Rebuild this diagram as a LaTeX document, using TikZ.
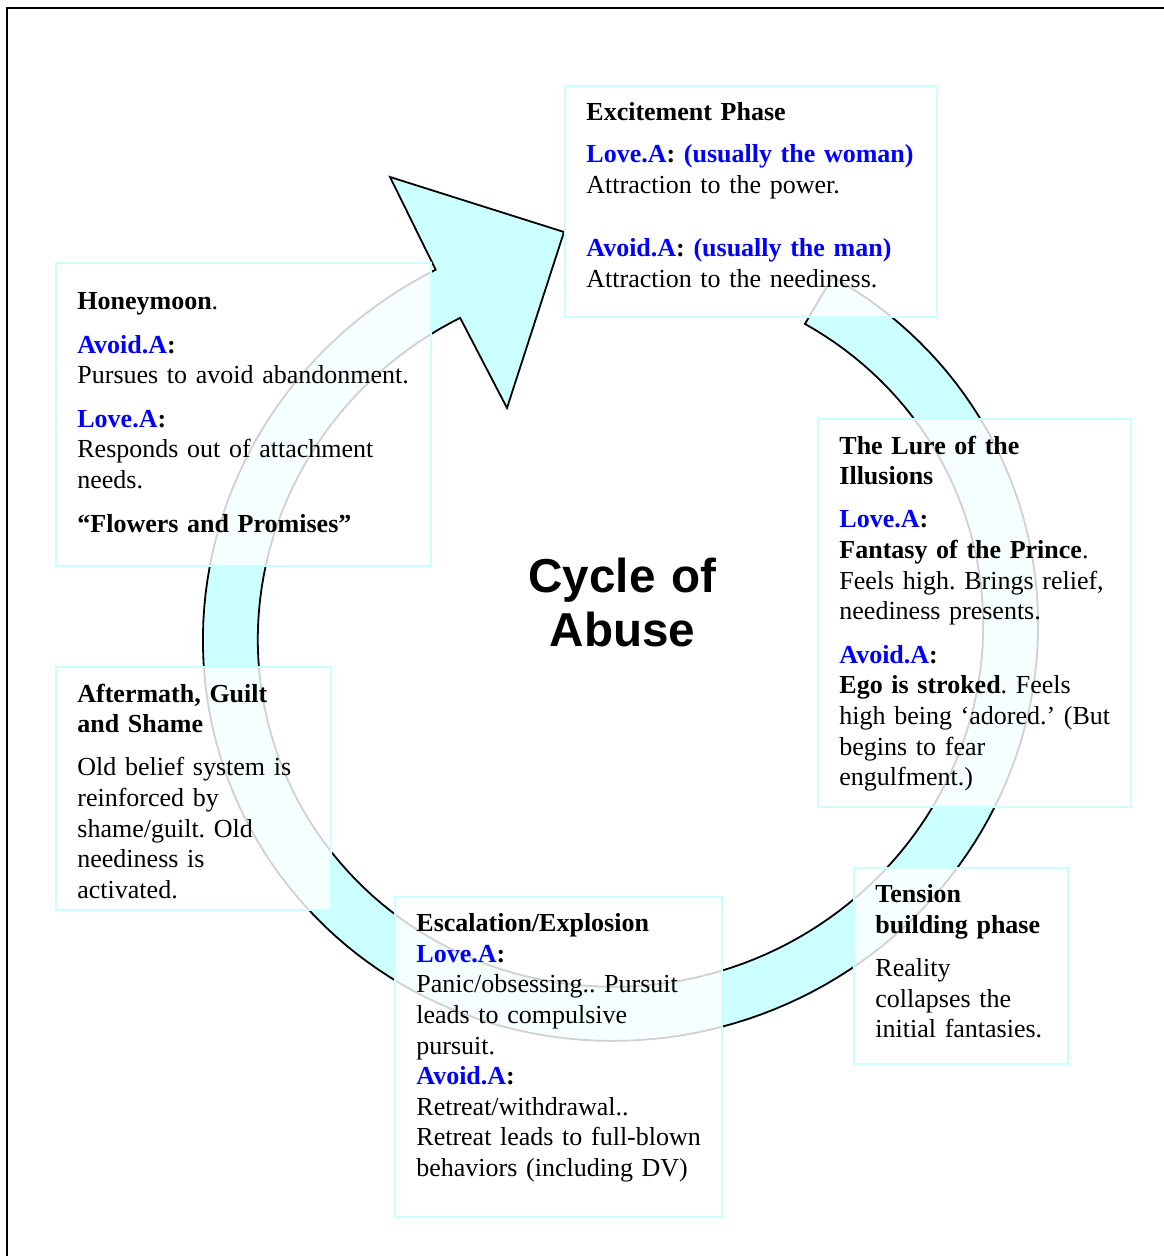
\documentclass[tikz,border=0pt]{standalone}
\usepackage{fontspec}
\setmainfont{Liberation Serif}
\newfontfamily\titlefont{Liberation Sans}
\definecolor{ringfill}{HTML}{CCFFFF}
\definecolor{boxline}{HTML}{CCFFFF}
\definecolor{lblue}{HTML}{0000FF}
\newcommand{\lov}{\textbf{\textcolor{lblue}{Love.A}:}}
\newcommand{\avd}{\textbf{\textcolor{lblue}{Avoid.A}:}}
\frenchspacing
\begin{document}
\begin{tikzpicture}[x=0.5pt,y=-0.5pt,
  box/.style={draw=boxline, line width=1pt, fill=white, fill opacity=0.82, rectangle, inner sep=0pt},
  txt/.style={anchor=base west, inner sep=0pt, align=left, text width=190pt, font=\fontsize{13.0}{15.3}\selectfont},
  ring/.style={fill=ringfill, draw=black, line width=0.9pt, line join=miter},
  frame/.style={draw=black, line width=1.2pt}
]
\useasboundingbox (0,0) rectangle (1163,1256);
\draw[frame] (7,1270) -- (7,8) -- (1180,8);

% circular arrow
\draw[ring]
  plot[domain=0:303.2, samples=160, variable=\p]
   ({620.5+419*cos(40-\p)*0.9397-407*sin(40-\p)*0.3420},
    {632.5-419*cos(40-\p)*0.3420-407*sin(40-\p)*0.9397})
  -- (390,177) -- (564,232) -- (507,408)
  -- plot[domain=0:303.2, samples=160, variable=\p]
   ({620.5+364*cos(-263.2+\p)*0.9397-353*sin(-263.2+\p)*0.3420},
    {632.5-364*cos(-263.2+\p)*0.3420-353*sin(-263.2+\p)*0.9397})
  -- cycle;

% boxes
\node[box, minimum width=186pt, minimum height=115.5pt] (exbox) at (751,201.5) {};
\node[box, minimum width=187.5pt, minimum height=151.5pt] (hmbox) at (243.5,414.5) {};
\node[box, minimum width=156.5pt, minimum height=194pt] (lubox) at (974.5,613) {};
\node[box, minimum width=137.5pt, minimum height=121.5pt] (afbox) at (193.5,788.5) {};
\node[box, minimum width=163.5pt, minimum height=160pt] (esbox) at (558.5,1057) {};
\node[box, minimum width=107pt, minimum height=98pt] (tebox) at (961,966) {};

% texts
\node[txt] (extext) at (586,121) {\textbf{Excitement Phase}\\[5.7pt]
\textbf{\textcolor{lblue}{Love.A}: \textcolor{lblue}{(usually the woman)}}\\
Attraction to the power.\\[16.2pt]
\textbf{\textcolor{lblue}{Avoid.A}: \textcolor{lblue}{(usually the man)}}\\
Attraction to the neediness.};

\node[txt] (hmtext) at (77,310) {\textbf{Honeymoon}.\\[6.3pt]
\avd\\
Pursues to avoid abandonment.\\[6.5pt]
\lov\\
Responds out of attachment\\
needs.\\[6.5pt]
\textbf{“Flowers and Promises”}};

\node[txt] (lutext) at (839,454) {\textbf{The Lure of the}\\
\textbf{Illusions}\\[6.3pt]
\lov\\
\textbf{Fantasy of the Prince}.\\
Feels high. Brings relief,\\
neediness presents.\\[6.5pt]
\avd\\
\textbf{Ego is stroked}. Feels\\
high being ‘adored.’ (But\\
begins to fear\\
engulfment.)};

\node[txt] (aftext) at (77,702) {\textbf{Aftermath, Guilt}\\
\textbf{and Shame}\\[6.3pt]
Old belief system is\\
reinforced by\\
shame/guilt. Old\\
neediness is\\
activated.};

\node[txt] (estext) at (416,931.7) {\textbf{Escalation/Explosion}\\
\lov\\
Panic/obsessing.. Pursuit\\
leads to compulsive\\
pursuit.\\
\avd\\
Retreat/withdrawal..\\
Retreat leads to full-blown\\
behaviors (including DV)};

\node[txt] (tetext) at (875,902.7) {\textbf{Tension}\\
\textbf{building phase}\\[6.3pt]
Reality\\
collapses the\\
initial fantasies.};

\node[anchor=base, inner sep=0pt, align=center, text width=130pt,
  font=\titlefont\bfseries\fontsize{23.8}{27}\selectfont] (title) at (622.5,592) {Cycle of\\Abuse};
\end{tikzpicture}
\end{document}
